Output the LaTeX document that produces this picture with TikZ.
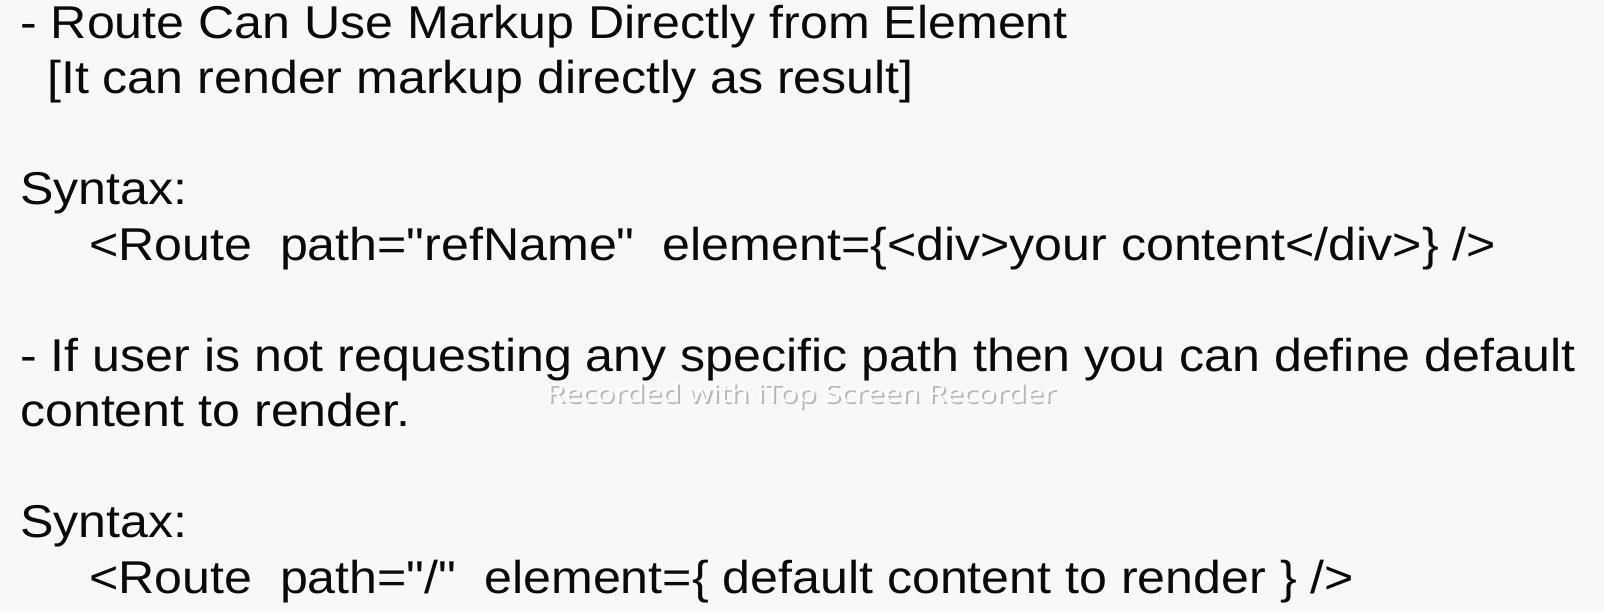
\documentclass[tikz,border=0pt]{standalone}
\usepackage{fontspec}
\setmainfont{Liberation Sans}[Ligatures=TeXOff]
\newfontfamily\wmfont{Open Sans}
\definecolor{bgc}{HTML}{F8F8F8}
\definecolor{txt}{HTML}{0A0A0A}
\definecolor{wmshadow}{HTML}{B8B8B8}
\begin{document}
\begin{tikzpicture}[x=1pt,y=-1pt,
  line/.style={anchor=base west,inner sep=0pt,text=txt,font=\fontsize{46}{55}\selectfont,xscale=1.09},
  wm/.style={anchor=base,inner sep=0pt,font=\wmfont\fontsize{25.5}{30}\selectfont,xscale=1.19}]
\fill[bgc] (0,0) rectangle (1604,611);
\useasboundingbox (0,0) rectangle (1604,611);
\node[line] (l1) at (20,38) {- Route Can Use Markup Directly from Element};
\node[line] (l2) at (47,93.5) {[It can render markup directly as result]};
\node[line] (l3) at (20,204.5) {Syntax:};
\node[line] (l4) at (89,260) {<Route\ \ path="refName"\ \ element=\{<div>your content</div>\} />};
\node[line] (l5) at (20,371) {- If user is not requesting any specific path then you can define default};
\node[line] (l6) at (20,426.5) {content to render.};
\node[line] (l7) at (20,537.5) {Syntax:};
\node[line] (l8) at (89,593) {<Route\ \ path="/"\ \ element=\{ default content to render \} />};
\node[wm,text=wmshadow] (wms) at (803,404.5) {Recorded with iTop Screen Recorder};
\node[wm,text=white] (wmt) at (801,402.5) {Recorded with iTop Screen Recorder};
\end{tikzpicture}
\end{document}
